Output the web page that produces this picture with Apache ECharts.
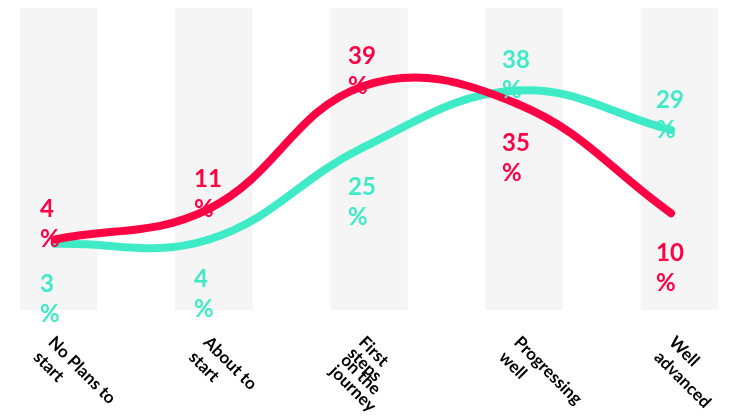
<!DOCTYPE html>
<html>
<head>
<meta charset="utf-8">
<script src="https://cdn.jsdelivr.net/npm/echarts@6/dist/echarts.min.js"></script>
<style>
  html, body { margin: 0; padding: 0; background: #fff; }
  #chart { width: 730px; height: 416px; }
</style>
</head>
<body>
<div id="chart"></div>
<script>
// stages of the journey
const categories = ['No Plans to\nstart', 'About to\nstart', 'First\nsteps\non the\njourney', 'Progressing\nwell', 'Well\nadvanced'];
// two series, values in %
const redValues = [4, 11, 39, 35, 10];
const tealValues = [3, 4, 25, 38, 29];
// grey background columns (full height)
const bandValues = [100, 100, 100, 100, 100];

const RED = '#ff0044';
const TEAL = '#3eebc6';
const TENSION = 0.4;

// label goes above when this series is the higher one at that stage
function buildData(values, other) {
  return values.map((v, i) => {
    const above = v >= other[i];
    return {
      value: v,
      label: above
        ? { position: 'top', distance: 0, offset: [-15, 15] }
        : { position: 'bottom', distance: 0, offset: [-15, 25] }
    };
  });
}

// cardinal-style control points around pt (like a tension spline)
function controlPoints(prev, pt, next) {
  const d01 = Math.hypot(pt[0] - prev[0], pt[1] - prev[1]);
  const d12 = Math.hypot(next[0] - pt[0], next[1] - pt[1]);
  const sum = d01 + d12 || 1;
  const fa = TENSION * d01 / sum;
  const fb = TENSION * d12 / sum;
  const dx = next[0] - prev[0];
  const dy = next[1] - prev[1];
  return {
    before: [pt[0] - fa * dx, pt[1] - fa * dy],
    after: [pt[0] + fb * dx, pt[1] + fb * dy]
  };
}

// smooth stroke, one bezier segment per data item, positions from the axes
function curveSeries(values, color, z) {
  return {
    type: 'custom',
    xAxisIndex: 1,
    yAxisIndex: 1,
    silent: true,
    clip: false,
    z: z,
    data: values.map((v, i) => [i, v]),
    encode: { x: 0, y: 1 },
    renderItem: (params, api) => {
      const i = params.dataIndex;
      const n = values.length;
      if (i >= n - 1) return null;
      const pts = values.map((v, k) => api.coord([k, v]));
      const get = k => pts[Math.max(0, Math.min(n - 1, k))];
      const c0 = controlPoints(get(i - 1), get(i), get(i + 1));
      const c1 = controlPoints(get(i), get(i + 1), get(i + 2));
      return {
        type: 'bezierCurve',
        shape: {
          x1: pts[i][0], y1: pts[i][1],
          x2: pts[i + 1][0], y2: pts[i + 1][1],
          cpx1: c0.after[0], cpy1: c0.after[1],
          cpx2: c1.before[0], cpy2: c1.before[1]
        },
        style: { stroke: color, fill: null, lineWidth: 8, lineCap: 'round' }
      };
    }
  };
}

// invisible line that only carries the value labels
function labelSeries(values, other, color) {
  return {
    type: 'line',
    xAxisIndex: 1,
    yAxisIndex: 1,
    symbol: 'circle',
    symbolSize: 0,
    showSymbol: true,
    silent: true,
    z: 6,
    lineStyle: { width: 0, opacity: 0 },
    itemStyle: { color: color },
    label: {
      show: true,
      align: 'left',
      formatter: '{c}\n%',
      color: color,
      fontFamily: 'Lato',
      fontWeight: 'bold',
      fontSize: 24,
      lineHeight: 30
    },
    data: buildData(values, other)
  };
}

const axisFont = { color: '#000', fontFamily: 'Lato', fontWeight: 'bold', fontSize: 17 };

const myChart = echarts.init(document.getElementById('chart'));
const option = {
  animation: false,
  grid: [
    { left: -19, right: -27, top: 8, bottom: 106, outerBoundsMode: 'none' },
    { left: -22, right: -18, top: 38, bottom: 159, outerBoundsMode: 'none' }
  ],
  xAxis: [{
    type: 'category',
    gridIndex: 0,
    data: categories,
    axisLine: { show: false },
    axisTick: { show: false },
    axisLabel: Object.assign({
      interval: 0,
      rotate: -45,
      margin: 22,
      align: 'left',
      verticalAlign: 'top',
      lineHeight: 21,
      // long labels: the two middle lines get squeezed together
      formatter: v => {
        const parts = v.split('\n');
        if (parts.length < 4) return v;
        return parts[0] + '\n{t|' + parts[1] + '}\n{t|' + parts[2] + '}\n' + parts[3];
      },
      rich: { t: Object.assign({ lineHeight: 10 }, axisFont) }
    }, axisFont)
  }, {
    type: 'category',
    gridIndex: 1,
    data: categories,
    show: false
  }],
  yAxis: [{
    type: 'value',
    gridIndex: 0,
    min: 0,
    max: 100,
    show: false
  }, {
    type: 'value',
    gridIndex: 1,
    min: 0,
    max: 50,
    show: false
  }],
  series: [
    {
      type: 'bar',
      xAxisIndex: 0,
      yAxisIndex: 0,
      barWidth: '50%',
      silent: true,
      z: 1,
      itemStyle: { color: '#f5f5f5' },
      data: bandValues
    },
    curveSeries(tealValues, TEAL, 3),
    curveSeries(redValues, RED, 4),
    labelSeries(tealValues, redValues, TEAL),
    labelSeries(redValues, tealValues, RED)
  ]
};
myChart.setOption(option);
</script>
</body>
</html>
